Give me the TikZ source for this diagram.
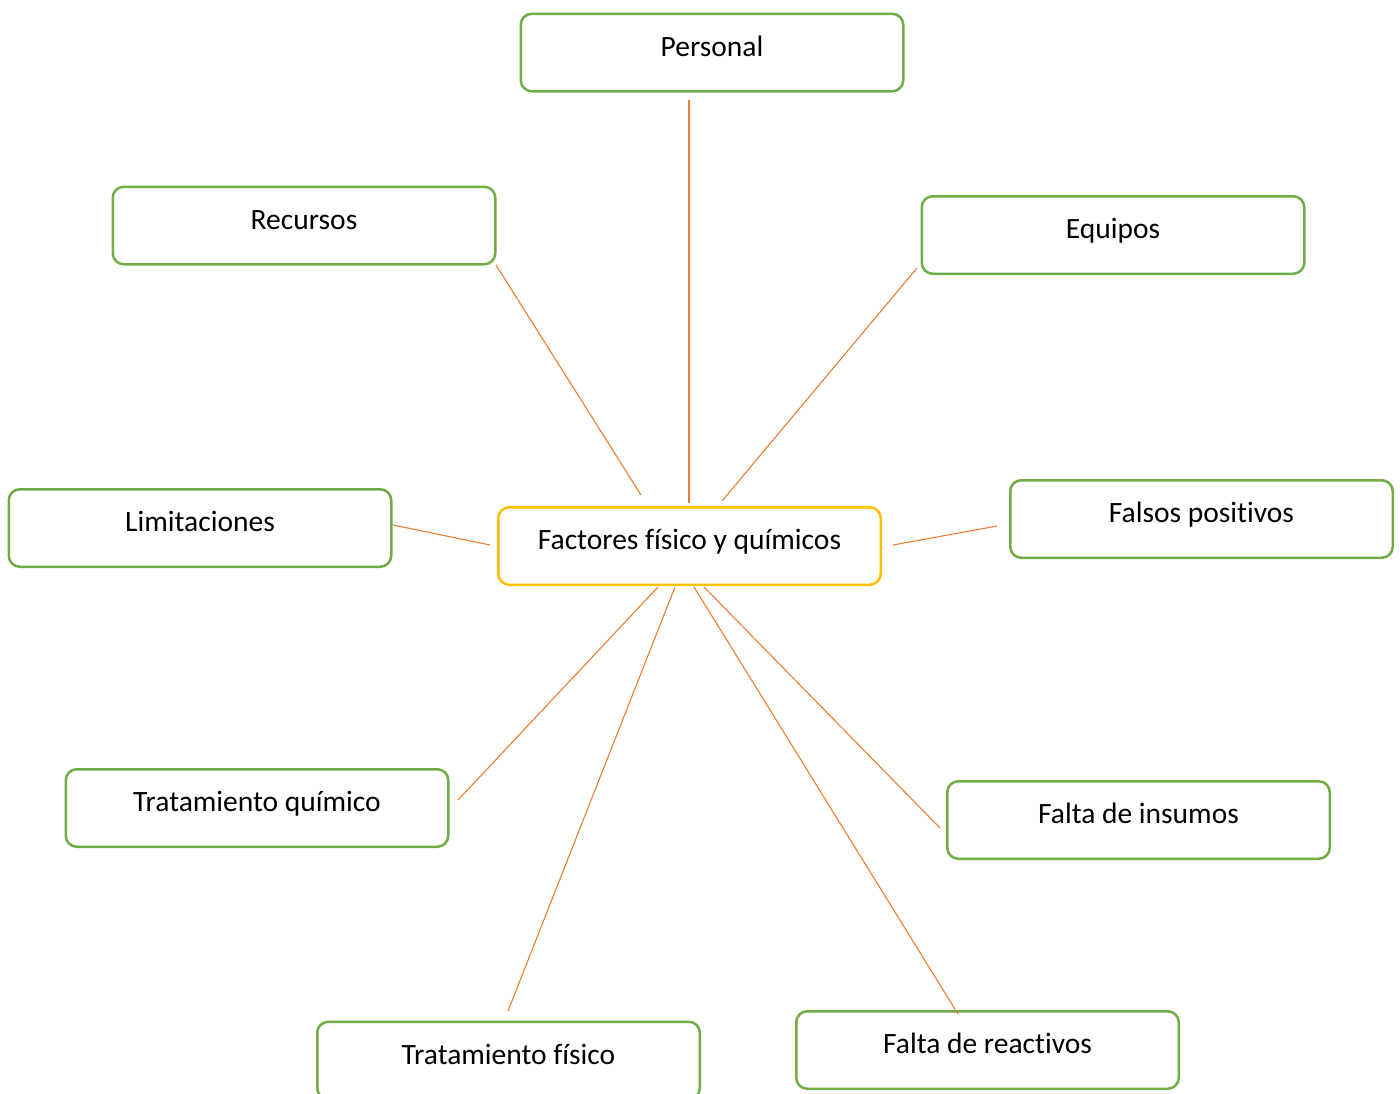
\documentclass[tikz,border=0pt]{standalone}
\usepackage{fontspec}
\setmainfont{Carlito}[Ligatures=NoCommon]
\definecolor{boxgreen}{HTML}{70AD47}
\definecolor{boxgold}{HTML}{FFC000}
\definecolor{linkorange}{HTML}{ED7D31}
\begin{document}
\begin{tikzpicture}[x=1pt,y=-1pt,
  box/.style={draw=boxgreen, line width=2.5pt, rounded corners=11pt, fill=white,
    minimum width=382.5pt, minimum height=77.5pt, inner sep=0pt,
    font=\fontsize{29.5}{33}\selectfont, text height=20pt, text depth=13pt},
  hub/.style={box, draw=boxgold},
  link/.style={draw=linkorange, line width=1.1pt}]
\clip (0,0) rectangle (1400,1093);
\useasboundingbox (0,0) rectangle (1400,1093);
\node[box] (per) at (712,52.5) {Personal};
\node[box] (rec) at (304,225.5) {Recursos};
\node[box] (equ) at (1113,235) {Equipos};
\node[box] (lim) at (200,528) {Limitaciones};
\node[hub] (cen) at (689.5,546) {Factores físico y químicos};
\node[box] (fal) at (1201.5,519) {Falsos positivos};
\node[box] (tq) at (257,808) {Tratamiento químico};
\node[box] (fi) at (1138.5,820) {Falta de insumos};
\node[box] (tf) at (508.5,1060.5) {Tratamiento físico};
\node[box] (fr) at (987.5,1050) {Falta de reactivos};
% connector end points
\coordinate (per-e) at (689,100);   \coordinate (per-c) at (689,503);
\coordinate (rec-e) at (496,265);   \coordinate (rec-c) at (641,495);
\coordinate (equ-e) at (917,268);   \coordinate (equ-c) at (722,501);
\coordinate (lim-e) at (393,525);   \coordinate (lim-c) at (490,545);
\coordinate (fal-e) at (997,526);   \coordinate (fal-c) at (893,545);
\coordinate (tq-e) at (458,800);    \coordinate (tq-c) at (658,587);
\coordinate (tf-e) at (508,1011);   \coordinate (tf-c) at (675,587);
\coordinate (fr-e) at (958,1014);   \coordinate (fr-c) at (694,587);
\coordinate (fi-e) at (940,828);    \coordinate (fi-c) at (704,587);
\draw[link] (per-e) -- (per-c);
\draw[link] (rec-e) -- (rec-c);
\draw[link] (equ-e) -- (equ-c);
\draw[link] (lim-e) -- (lim-c);
\draw[link] (fal-e) -- (fal-c);
\draw[link] (tq-e) -- (tq-c);
\draw[link] (tf-e) -- (tf-c);
\draw[link] (fr-e) -- (fr-c);
\draw[link] (fi-e) -- (fi-c);
\end{tikzpicture}
\end{document}
